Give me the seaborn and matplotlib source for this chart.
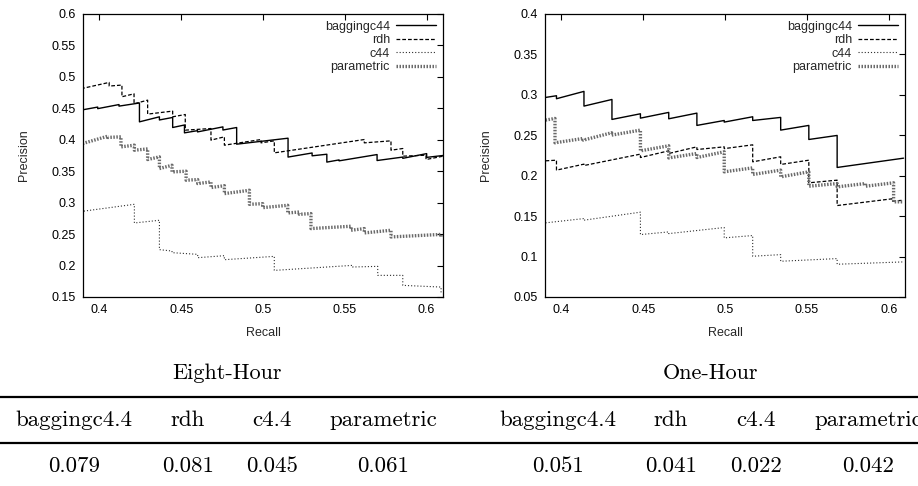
import matplotlib
matplotlib.use('Agg')
import matplotlib.pyplot as plt
from matplotlib.lines import Line2D
from matplotlib.ticker import FuncFormatter
import seaborn as sns

sns.set_theme(style='white')
plt.rcParams['font.family'] = ['Liberation Sans', 'DejaVu Sans']

# ---- Eight-Hour precision/recall curves ----
eight_bag_r = [0.3895, 0.3895, 0.399, 0.399, 0.412, 0.412, 0.4245, 0.4245, 0.4367, 0.4367, 0.4448, 0.4448,
               0.452, 0.452, 0.460, 0.460, 0.4755, 0.4755, 0.4839, 0.4839, 0.5153, 0.5153, 0.530, 0.530,
               0.539, 0.539, 0.5465, 0.5465, 0.5697, 0.5697, 0.5854, 0.5854, 0.600, 0.600, 0.61]
eight_bag_p = [0.4595, 0.4475, 0.452, 0.4495, 0.456, 0.4535, 0.4585, 0.4285, 0.4365, 0.4315, 0.4355, 0.4195,
               0.4235, 0.411, 0.4145, 0.4125, 0.4205, 0.4155, 0.4195, 0.393, 0.4025, 0.3725, 0.379, 0.3745,
               0.377, 0.3645, 0.368, 0.3665, 0.3765, 0.367, 0.3725, 0.3705, 0.378, 0.372, 0.375]
eight_rdh_r = [0.3895, 0.3895, 0.406, 0.406, 0.4138, 0.4138, 0.4212, 0.4212, 0.4295, 0.4295, 0.4448, 0.4448,
               0.4525, 0.4525, 0.4682, 0.4682, 0.4764, 0.4764, 0.4988, 0.4988, 0.5069, 0.5069, 0.5619, 0.5619,
               0.5782, 0.5782, 0.5854, 0.5854, 0.5996, 0.5996, 0.61]
eight_rdh_p = [0.4925, 0.4816, 0.4912, 0.4854, 0.487, 0.4684, 0.4731, 0.4572, 0.463, 0.4408, 0.4456, 0.4365,
               0.4402, 0.4153, 0.4179, 0.3994, 0.4047, 0.3914, 0.4004, 0.3951, 0.3983, 0.3792, 0.4004, 0.3951,
               0.3983, 0.3834, 0.3861, 0.3739, 0.3755, 0.3686, 0.3739]
eight_c44_r = [0.3898, 0.3898, 0.4214, 0.4214, 0.4367, 0.4367, 0.4444, 0.4444, 0.4601, 0.4601, 0.4764, 0.4764,
               0.5069, 0.5069, 0.5548, 0.5548, 0.5701, 0.5701, 0.5854, 0.5854, 0.6088, 0.6088]
eight_c44_p = [0.3091, 0.2863, 0.2974, 0.2677, 0.272, 0.2253, 0.2231, 0.2205, 0.2178, 0.2125, 0.2157, 0.2093,
               0.2146, 0.1923, 0.2003, 0.1977, 0.1987, 0.1844, 0.1844, 0.1685, 0.1658, 0.1552]
eight_par_r = [0.3898, 0.4051, 0.4051, 0.4132, 0.4132, 0.4214, 0.4214, 0.4295, 0.4295, 0.4367, 0.4367,
               0.4444, 0.4444, 0.4530, 0.4530, 0.4601, 0.4601, 0.4682, 0.4682, 0.4764, 0.4764, 0.4917, 0.4917,
               0.4998, 0.4998, 0.5151, 0.5151, 0.5222, 0.5222, 0.5293, 0.5293, 0.5538, 0.5538, 0.5619, 0.5619,
               0.5782, 0.5782, 0.6088, 0.6088]
eight_par_p = [0.394, 0.4057, 0.4037, 0.4047, 0.3887, 0.3914, 0.3834, 0.3855, 0.3686, 0.3728, 0.3542,
               0.3595, 0.3489, 0.350, 0.3357, 0.3367, 0.3304, 0.333, 0.324, 0.327, 0.3144, 0.3197, 0.2974,
               0.2984, 0.2921, 0.2958, 0.2836, 0.2852, 0.2815, 0.2826, 0.2588, 0.2625, 0.2561, 0.2588, 0.2519,
               0.2561, 0.2455, 0.2495, 0.244]

# ---- One-Hour precision/recall curves ----
one_bag_r = [0.3903, 0.397, 0.397, 0.4138, 0.4138, 0.4309, 0.4309, 0.4483, 0.4483, 0.4656, 0.4656, 0.4828,
             0.4828, 0.4995, 0.4995, 0.5169, 0.5169, 0.534, 0.534, 0.5512, 0.5512, 0.5685, 0.5685, 0.6091]
one_bag_p = [0.2968, 0.2989, 0.2952, 0.3043, 0.2861, 0.2943, 0.2696, 0.2766, 0.2712, 0.2783, 0.2704, 0.2774,
             0.2622, 0.2683, 0.2663, 0.2729, 0.2683, 0.2721, 0.2564, 0.2622, 0.2448, 0.2498, 0.2102, 0.2217]
one_rdh_r = [0.3903, 0.397, 0.397, 0.4138, 0.4138, 0.4483, 0.4483, 0.4656, 0.4656, 0.4828, 0.4828, 0.4995,
             0.4995, 0.5169, 0.5169, 0.534, 0.534, 0.5512, 0.5512, 0.5685, 0.5685, 0.602, 0.602, 0.6091]
one_rdh_p = [0.2184, 0.2192, 0.2069, 0.2143, 0.2126, 0.2267, 0.2225, 0.2308, 0.2275, 0.2357, 0.2324, 0.2357,
             0.2335, 0.2382, 0.2172, 0.2234, 0.2139, 0.2192, 0.1912, 0.1945, 0.1631, 0.1714, 0.1685, 0.1697]
one_c44_r = [0.3903, 0.4138, 0.4138, 0.4483, 0.4483, 0.4656, 0.4656, 0.4995, 0.4995, 0.5169, 0.5169,
             0.534, 0.534, 0.5685, 0.5685, 0.6091]
one_c44_p = [0.1417, 0.147, 0.145, 0.1549, 0.1272, 0.1305, 0.1284, 0.1359, 0.1231, 0.1260, 0.1004,
             0.1024, 0.0942, 0.0975, 0.0905, 0.0934]
one_par_r = [0.3903, 0.3961, 0.3961, 0.4134, 0.4134, 0.4307, 0.4307, 0.4483, 0.4483, 0.4656, 0.4656,
             0.4828, 0.4828, 0.4995, 0.4995, 0.5169, 0.5169, 0.534, 0.534, 0.5512, 0.5512, 0.5685, 0.5685,
             0.5858, 0.5858, 0.603, 0.603, 0.6091]
one_par_p = [0.2688, 0.2708, 0.2407, 0.2461, 0.244, 0.2531, 0.2502, 0.2564, 0.2308, 0.237, 0.222,
             0.2275, 0.2225, 0.2296, 0.2048, 0.2097, 0.2015, 0.2069, 0.1986, 0.2048, 0.187, 0.1903, 0.1862,
             0.1903, 0.187, 0.1912, 0.1677, 0.1677]

# ---- table under the plots ----
table_models = ['baggingc4.4', 'rdh', 'c4.4', 'parametric']
eight_values = [0.079, 0.081, 0.045, 0.061]
one_values = [0.051, 0.041, 0.022, 0.042]

legend_names = ['baggingc44', 'rdh', 'c44', 'parametric']
line_styles = [
    dict(color='black', lw=1.0, linestyle='-'),
    dict(color='black', lw=0.9, linestyle=(0, (3, 1.6))),
    dict(color='#2e2e2e', lw=0.8, linestyle=(0, (1, 1.8))),
    dict(color='#6a6a6a', lw=2.4, linestyle=(0, (0.45, 0.45))),
]

fig = plt.figure(figsize=(9.18, 4.86), dpi=100)
ax_l = fig.add_axes([0.0904, 0.3889, 0.3922, 0.5823])
ax_r = fig.add_axes([0.5937, 0.3889, 0.3922, 0.5823])

panels = [
    (ax_l, [(eight_bag_r, eight_bag_p), (eight_rdh_r, eight_rdh_p),
            (eight_c44_r, eight_c44_p), (eight_par_r, eight_par_p)], (0.15, 0.6)),
    (ax_r, [(one_bag_r, one_bag_p), (one_rdh_r, one_rdh_p),
            (one_c44_r, one_c44_p), (one_par_r, one_par_p)], (0.05, 0.4)),
]

fmt = FuncFormatter(lambda v, _: f"{v:g}")
for ax, series, ylim in panels:
    for (rx, py), name, st in zip(series, legend_names, line_styles):
        sns.lineplot(x=rx, y=py, ax=ax, sort=False, estimator=None, label=name, **st)
    ax.set_xlim(0.39, 0.61)
    ax.set_ylim(*ylim)
    ax.set_xticks([0.4, 0.45, 0.5, 0.55, 0.6])
    ticks = [round(ylim[0] + 0.05 * i, 2) for i in range(int(round((ylim[1] - ylim[0]) / 0.05)) + 1)]
    ax.set_yticks(ticks)
    ax.xaxis.set_major_formatter(fmt)
    ax.yaxis.set_major_formatter(fmt)
    ax.tick_params(direction='in', top=True, right=True, length=4.5, width=0.8,
                   labelsize=9, colors='black', pad=5)
    for sp in ax.spines.values():
        sp.set_color('black')
        sp.set_linewidth(0.9)
    ax.set_xlabel('Recall', fontsize=9, labelpad=8)
    ax.set_ylabel('Precision', fontsize=9, labelpad=15.5)
    ax.legend(loc='upper right', frameon=False, markerfirst=False, fontsize=9,
              handlelength=3.2, handletextpad=0.5, labelspacing=0.12,
              borderaxespad=0.25, borderpad=0.3)

# captions and booktabs-style table
serif = dict(family='cmr10', color='black')
fig.text(227 / 918, 1 - 373 / 486, 'Eight-Hour', ha='center', va='center', fontsize=16, **serif)
fig.text(710 / 918, 1 - 373 / 486, 'One-Hour', ha='center', va='center', fontsize=16, **serif)

for yy in (397, 443):
    fig.add_artist(Line2D([0, 1], [1 - yy / 486] * 2, transform=fig.transFigure,
                          color='black', lw=1.6))

# the last header runs past the right edge, as in the source page
col_x = [74, 188, 272, 383, 558, 671, 756, 868]
for i, (name, val) in enumerate(zip(table_models * 2, eight_values + one_values)):
    fig.text(col_x[i] / 918, 1 - 420 / 486, name, ha='center', va='center', fontsize=16.5, **serif)
    fig.text(col_x[i] / 918, 1 - 466 / 486, f"{val:.3f}", ha='center', va='center', fontsize=16.5, **serif)

fig.savefig('out.png', dpi=100)
